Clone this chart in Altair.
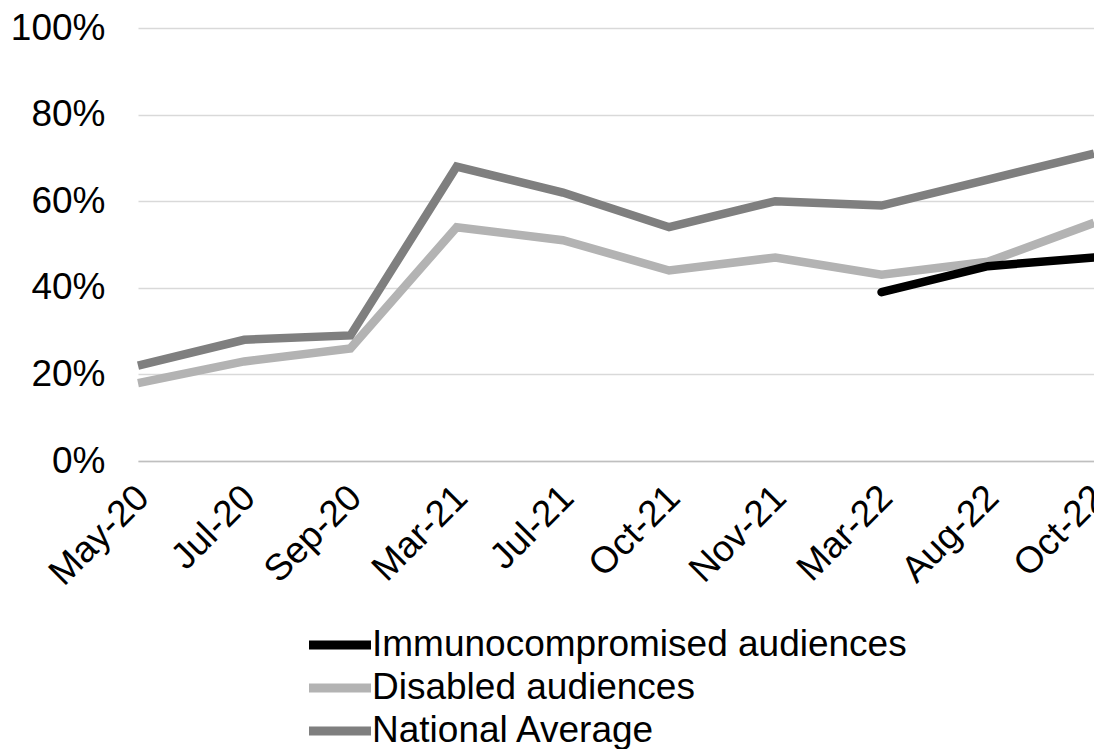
import altair as alt
import pandas as pd

months = ["May-20", "Jul-20", "Sep-20", "Mar-21", "Jul-21", "Oct-21",
          "Nov-21", "Mar-22", "Aug-22", "Oct-22"]
disabled = [0.18, 0.23, 0.26, 0.54, 0.51, 0.44, 0.47, 0.43, 0.46, 0.55]
national = [0.22, 0.28, 0.29, 0.68, 0.62, 0.54, 0.60, 0.59, 0.65, 0.71]
immuno_months = ["Mar-22", "Aug-22", "Oct-22"]
immuno = [0.39, 0.45, 0.47]

series_names = ["Immunocompromised audiences", "Disabled audiences", "National Average"]
series_colors = ["#000000", "#b3b3b3", "#7f7f7f"]

rows = []
for m, v in zip(months, disabled):
    rows.append({"month": m, "value": v, "series": "Disabled audiences"})
for m, v in zip(months, national):
    rows.append({"month": m, "value": v, "series": "National Average"})
df = pd.DataFrame(rows)
df_imm = pd.DataFrame({"month": immuno_months, "value": immuno,
                       "series": ["Immunocompromised audiences"] * len(immuno)})

FONT = "Liberation Sans"
FS = 37

x_enc = alt.X("month:N", sort=months, title=None,
              scale=alt.Scale(padding=0, domain=months),
              axis=alt.Axis(labelAngle=-45, labelAlign="right", labelBaseline="top",
                            ticks=False, domain=True, domainColor="#bfbfbf", domainWidth=1.5,
                            grid=False, labelPadding=18, labelOffset=-8,
                            labelFont=FONT, labelFontSize=FS,
                            labelColor="#000000", labelOverlap=False))
y_enc = alt.Y("value:Q", title=None,
              scale=alt.Scale(domain=[0, 1], nice=False),
              axis=alt.Axis(values=[0, 0.2, 0.4, 0.6, 0.8, 1.0], format=".0%",
                            ticks=False, domain=False, gridColor="#d9d9d9", gridWidth=1.5,
                            labelPadding=33, labelFont=FONT, labelFontSize=FS,
                            labelColor="#000000"))
c_enc = alt.Color("series:N", title=None,
                  scale=alt.Scale(domain=series_names, range=series_colors),
                  legend=alt.Legend(orient="none", legendX=182, legendY=597,
                                    direction="vertical", symbolType="M-2,0H2",
                                    symbolStrokeWidth=9, symbolSize=961,
                                    labelFont=FONT, labelFontSize=FS,
                                    labelColor="#000000", labelOffset=12,
                                    rowPadding=5, labelLimit=800))

base_lines = alt.Chart(df).mark_line(strokeWidth=8.5).encode(
    x=x_enc, y=y_enc, color=c_enc, detail="series:N")
imm_line = alt.Chart(df_imm).mark_line(strokeWidth=8.5, strokeCap="round").encode(
    x=x_enc, y=y_enc, color=c_enc)

chart = alt.layer(base_lines, imm_line).properties(
    width=956, height=433,
    padding={"left": 130, "top": 20, "right": 0, "bottom": 292},
    autosize=alt.AutoSizeParams(type="none"),
).configure(font=FONT).configure_view(stroke=None)

chart.save("out.html", embed_options={"renderer": "svg", "actions": False})
